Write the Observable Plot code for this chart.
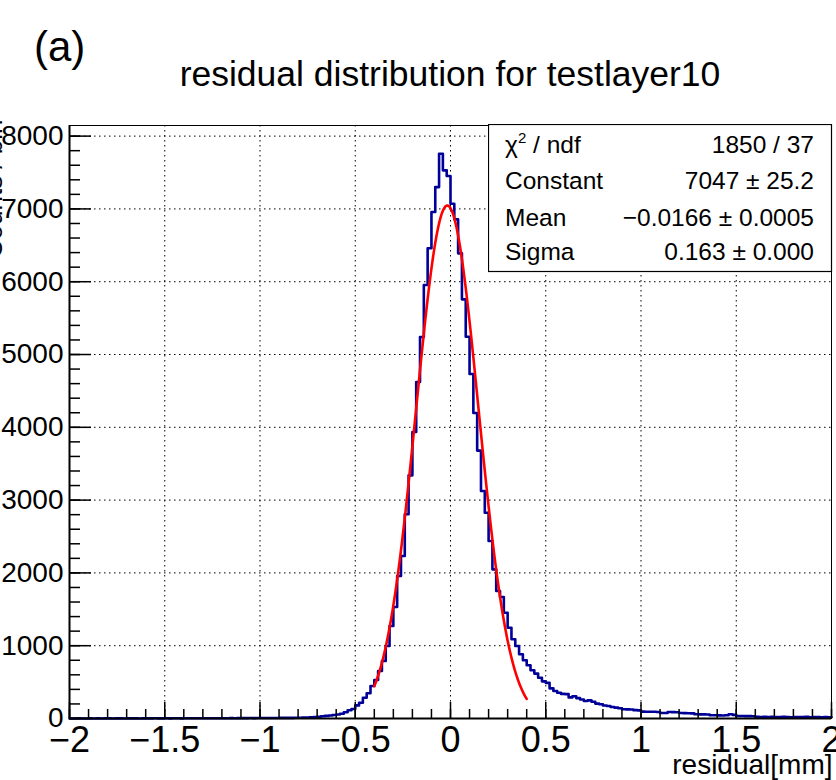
<!DOCTYPE html>
<html>
<head>
<meta charset="utf-8">
<script src="https://cdn.jsdelivr.net/npm/d3@7"></script>
<script src="https://cdn.jsdelivr.net/npm/@observablehq/plot@0.6"></script>
<style>
  body { margin: 0; background: #fff; }
  #wrap { position: relative; width: 836px; height: 780px; overflow: hidden;
          font-family: "Liberation Sans", Arial, Helvetica, sans-serif; background: #fff; }
  #head { display: block; }
  #chart svg { display: block; }
  #stats { position: absolute; left: 488px; top: 124px; }
</style>
</head>
<body>
<div id="wrap">
  <svg id="head" width="836" height="100" font-family="'Liberation Sans', Arial, Helvetica, sans-serif">
    <text id="panel" x="34" y="61" font-size="42" fill="#000"></text>
    <text id="title" x="450" y="86" font-size="35.5" text-anchor="middle" fill="#000"></text>
  </svg>
  <div id="chart"></div>
  <svg id="stats" width="345" height="149" font-family="'Liberation Sans', Arial, Helvetica, sans-serif"></svg>
</div>
<script>
// ---------- data ----------
const panelLabel = "(a)";
const titleText = "residual distribution for testlayer10";
const xLabel = "residual[mm]";
const yLabel = "Counts / bin";

const binStart = -2;
const binWidth = 0.02;
// 200 bins from -2 to 2
const counts = [
  1,1,2,1,1,2,1,2,1,2,
  2,1,2,2,1,2,2,2,1,2,
  2,2,3,2,2,3,2,3,3,2,
  3,3,3,4,3,3,4,3,4,4,
  4,4,5,4,5,5,5,6,5,6,
  6,6,7,7,7,8,8,9,9,10,
  10,12,14,17,20,24,30,36,42,48,
  55,65,85,113,130,180,217,286,346,446,
  529,652,790,996,1271,1532,1957,2232,2805,3340,
  3935,4622,5240,5955,6459,6957,7300,7758,7530,7452,
  7072,6857,6390,5758,5245,4732,4196,3680,3125,2827,
  2438,2049,1751,1669,1453,1247,1088,996,882,800,
  732,663,617,560,510,490,414,377,353,338,
  335,290,305,280,262,240,249,230,205,195,
  178,171,158,150,140,128,126,124,115,112,
  95,93,92,93,90,75,76,89,88,86,
  75,74,73,70,58,57,56,55,45,44,
  43,42,44,58,50,35,34,33,32,30,
  22,21,24,20,22,19,21,23,20,18,
  21,20,19,22,18,20,19,17,20,18
];

const xTicks = [-2, -1.5, -1, -0.5, 0, 0.5, 1, 1.5, 2];
const yTicks = [0, 1000, 2000, 3000, 4000, 5000, 6000, 7000, 8000];

// Gaussian fit parameters shown in the stats box
const fitConstant = 7047;
const fitMean = -0.0166;
const fitSigma = 0.163;
const fitRange = [-0.4, 0.4];

const statNames = ["χ2 / ndf", "Constant", "Mean", "Sigma"];
const statValues = ["1850 / 37", "7047 ± 25.2", "\u22120.0166 ± 0.0005", "0.163 ± 0.000"];

// ---------- header ----------
document.getElementById("panel").textContent = panelLabel;
document.getElementById("title").textContent = titleText;

// ---------- derived point sets ----------
const histPts = counts.map((c, i) => ({x: binStart + i * binWidth, y: c}));
histPts.push({x: binStart + counts.length * binWidth, y: counts[counts.length - 1]});

const nFit = 200;
const fitPts = d3.range(nFit + 1).map(k => {
  const x = fitRange[0] + k * (fitRange[1] - fitRange[0]) / nFit;
  return {x, y: fitConstant * Math.exp(-0.5 * ((x - fitMean) / fitSigma) ** 2)};
});

const xMinor = d3.range(-20, 21).map(k => k / 10);
const yMinor = d3.range(0, 41).map(k => k * 200);

// ---------- plot ----------
const W = 836, H = 680, mT = 25, mB = 62, mL = 69, mR = 5;
const iH = H - mT - mB, iW = W - mL - mR;
const yMax = d3.max(counts) * 1.05;
const fmtX = d => (d < 0 ? "\u2212" : "") + Math.abs(d);
const dotted = {stroke: "#000", strokeOpacity: 1, strokeWidth: 1, strokeDasharray: "1.5,3.5"};

const chart = Plot.plot({
  width: W, height: H,
  marginTop: mT, marginBottom: mB, marginLeft: mL, marginRight: mR,
  style: {fontFamily: "'Liberation Sans', Arial, Helvetica, sans-serif", color: "#000", background: "#fff", overflow: "visible"},
  x: {domain: [-2, 2]},
  y: {domain: [0, yMax]},
  marks: [
    Plot.gridX(xTicks.filter(t => t > -2 && t < 2), dotted),
    Plot.gridY(yTicks.filter(t => t > 0), dotted),
    Plot.line(histPts, {x: "x", y: "y", curve: "step-after", stroke: "#000099", strokeWidth: 2.6}),
    Plot.line(fitPts, {x: "x", y: "y", stroke: "#ff0000", strokeWidth: 2.6}),
    Plot.tickX(xMinor, {x: d => d, insetTop: iH - 9, stroke: "#000", strokeWidth: 1.5}),
    Plot.tickX(xTicks, {x: d => d, insetTop: iH - 16, stroke: "#000", strokeWidth: 1.5}),
    Plot.tickY(yMinor.filter(v => v <= yMax), {y: d => d, insetRight: iW - 11, stroke: "#000", strokeWidth: 1.5}),
    Plot.tickY(yTicks, {y: d => d, insetRight: iW - 22, stroke: "#000", strokeWidth: 1.5}),
    Plot.axisX(xTicks, {tickSize: 0, tickPadding: 8, fontSize: 36, tickFormat: fmtX, label: null}),
    Plot.axisY(yTicks, {tickSize: 0, tickPadding: 6, fontSize: 28, tickFormat: d => String(d), label: null}),
    Plot.frame({stroke: "#000", strokeWidth: 1}),
    Plot.ruleX([-2], {stroke: "#000", strokeWidth: 2}),
    Plot.ruleY([0], {stroke: "#000", strokeWidth: 2}),
    Plot.text([xLabel], {frameAnchor: "bottom-right", textAnchor: "end", lineAnchor: "middle", dy: 47, dx: 1, fontSize: 28, fill: "#000"}),
    Plot.text([yLabel], {frameAnchor: "top-left", rotate: -90, textAnchor: "end", lineAnchor: "middle", dx: -76, dy: -6, fontSize: 26, fill: "#000"})
  ]
});
document.getElementById("chart").append(chart);

// ---------- stats box ----------
const stats = d3.select("#stats");
stats.append("rect").attr("x", 0.5).attr("y", 0.5).attr("width", 343).attr("height", 147)
  .attr("fill", "#fff").attr("stroke", "#000").attr("stroke-width", 1.2);
const rowY = [29, 65, 102, 136];
statNames.forEach((name, i) => {
  const t = stats.append("text").attr("x", 17).attr("y", rowY[i]).attr("font-size", 24.5).attr("fill", "#000");
  if (name.startsWith("χ2")) {
    t.append("tspan").text("χ");
    t.append("tspan").attr("dy", -10).attr("font-size", 15).text("2");
    t.append("tspan").attr("dy", 10).text(name.slice(2));
  } else {
    t.text(name);
  }
  stats.append("text").attr("x", 326).attr("y", rowY[i]).attr("font-size", 24.5)
    .attr("text-anchor", "end").attr("fill", "#000").text(statValues[i]);
});
</script>
</body>
</html>
